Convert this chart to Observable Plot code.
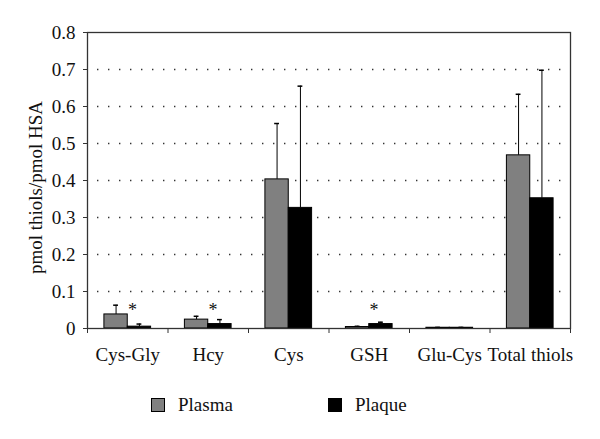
<!DOCTYPE html>
<html>
<head>
<meta charset="utf-8">
<script src="https://cdn.jsdelivr.net/npm/d3@7"></script>
<script src="https://cdn.jsdelivr.net/npm/@observablehq/plot@0.6"></script>
<style>
  html, body { margin: 0; padding: 0; background: #fff; }
  #wrap { width: 600px; font-family: "Liberation Serif", "DejaVu Serif", serif; }
  #wrap svg text { font-family: "Liberation Serif", "DejaVu Serif", serif; }
  #legend { position: relative; width: 600px; height: 64px; }
  .item { position: absolute; top: 23px; height: 14px; display: flex; align-items: center; font-size: 19px; color: #111; }
  .sw { width: 12px; height: 12px; border: 1px solid #000; margin-right: 13px; }
</style>
</head>
<body>
<div id="wrap"></div>
<script>
const categories = ["Cys-Gly", "Hcy", "Cys", "GSH", "Glu-Cys", "Total thiols"];
const series = ["Plasma", "Plaque"];
const plasmaValues = [0.038, 0.024, 0.403, 0.004, 0.002, 0.468];
const plasmaErrors = [0.025, 0.009, 0.151, 0.002, 0.001, 0.165];
const plaqueValues = [0.005, 0.012, 0.326, 0.012, 0.002, 0.352];
const plaqueErrors = [0.007, 0.012, 0.329, 0.005, 0.001, 0.346];
const starCategories = ["Cys-Gly", "Hcy", "GSH"];
const yTicks = [0, 0.1, 0.2, 0.3, 0.4, 0.5, 0.6, 0.7, 0.8];
const gridTicks = [0.1, 0.2, 0.3, 0.4, 0.5, 0.6, 0.7];
const colors = {Plasma: "#808080", Plaque: "#000000"};

const rows = [];
categories.forEach((c, i) => {
  rows.push({category: c, i, series: "Plasma", value: plasmaValues[i], err: plasmaErrors[i]});
  rows.push({category: c, i, series: "Plaque", value: plaqueValues[i], err: plaqueErrors[i]});
});
// Each category occupies [i, i+1]; bars sit side by side in the middle.
const left = d => d.i + (d.series === "Plasma" ? 0.21 : 0.5);
const right = d => d.i + (d.series === "Plasma" ? 0.5 : 0.79);
const center = d => (left(d) + right(d)) / 2;
const stars = rows.filter(d => d.series === "Plaque" && starCategories.includes(d.category));

const font = '"Liberation Serif", "DejaVu Serif", serif';

const chart = Plot.plot({
  width: 600,
  height: 375,
  marginLeft: 87,
  marginRight: 30,
  marginTop: 32,
  marginBottom: 47,
  style: {fontFamily: font, fontSize: "19px", color: "#111", background: "#fff"},
  x: {domain: [0, categories.length], axis: null},
  y: {domain: [0, 0.8], axis: null},
  marks: [
    Plot.ruleY(gridTicks, {y: d => d, stroke: "#333", strokeWidth: 1.4, strokeDasharray: "1.4 9.6", insetLeft: 10, insetRight: 6}),
    Plot.rectY(rows, {x1: left, x2: right, y: "value", fill: d => colors[d.series], stroke: "#000", strokeWidth: 1}),
    Plot.ruleX(rows, {x: center, y1: "value", y2: d => d.value + d.err, stroke: "#000", strokeWidth: 1}),
    Plot.ruleY(rows, {y: d => d.value + d.err, x1: d => center(d) - 0.03, x2: d => center(d) + 0.03, stroke: "#000", strokeWidth: 1.5}),
    Plot.text(stars, {x: center, y: 0.049, text: () => "*", dx: -7, fontSize: 18, fill: "#111"}),
    Plot.frame({stroke: "#333", strokeWidth: 1.3}),
    Plot.axisY({ticks: yTicks, tickFormat: d => d === 0 ? "0" : d.toFixed(1), tickSize: 4, tickPadding: 8, label: null, fontSize: 19, stroke: "#333"}),
    Plot.axisX({ticks: d3.range(0, categories.length + 1), tickFormat: () => "", tickSize: 5, label: null, stroke: "#333"}),
    Plot.axisX({ticks: categories.map((c, i) => i + 0.5), tickFormat: d => categories[Math.floor(d)], tickSize: 0, tickPadding: 19, label: null, fontSize: 19}),
    Plot.text(["pmol thiols/pmol HSA"], {frameAnchor: "left", textAnchor: "middle", text: d => d, rotate: -90, dx: -52, dy: 7, fontSize: 19, fill: "#111", style: "letter-spacing: 0.6px"})
  ]
});

const wrap = document.getElementById("wrap");
wrap.appendChild(chart);

const legend = document.createElement("div");
legend.id = "legend";
const legendLeft = {Plasma: 151, Plaque: 328};
series.forEach(s => {
  const item = document.createElement("div");
  item.className = "item";
  item.style.left = legendLeft[s] + "px";
  const sw = document.createElement("div");
  sw.className = "sw";
  sw.style.background = colors[s];
  const label = document.createElement("span");
  label.textContent = s;
  item.appendChild(sw);
  item.appendChild(label);
  legend.appendChild(item);
});
wrap.appendChild(legend);
</script>
</body>
</html>
